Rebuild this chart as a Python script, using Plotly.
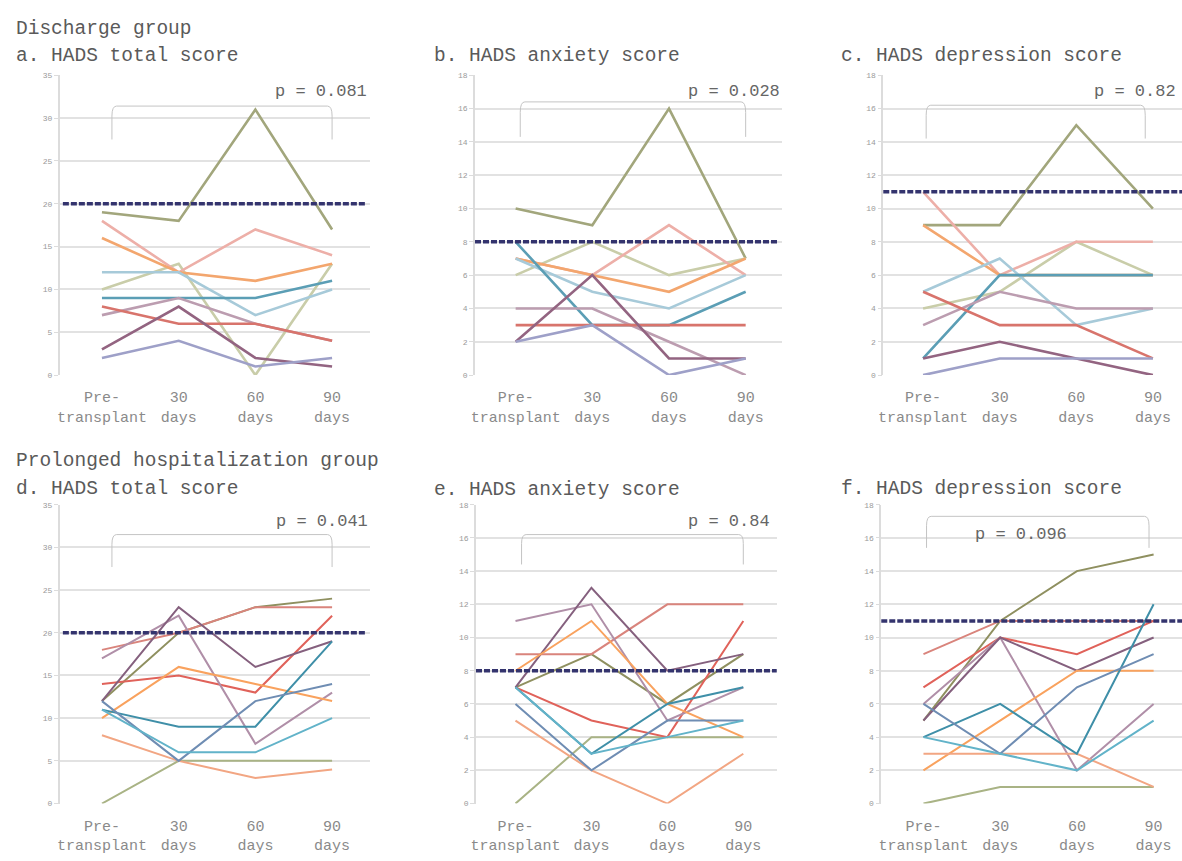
import plotly.graph_objects as go

W, H = 1182, 861
FONT = "Liberation Mono"

categories = ["Pre-<br>transplant", "30<br>days", "60<br>days", "90<br>days"]

# ---------------- Discharge group (10 patients) ----------------
discharge_colors = ["#A2A67C", "#C9CDA9", "#EDAFA8", "#F3A66E", "#A7CAD9",
                    "#5B9EB5", "#BC9DB0", "#D8746C", "#936481", "#9EA0C8"]
discharge_total = [
    [19, 18, 31, 17], [10, 13, 0, 13], [18, 12, 17, 14], [16, 12, 11, 13],
    [12, 12, 7, 10], [9, 9, 9, 11], [7, 9, 6, 4], [8, 6, 6, 4],
    [3, 8, 2, 1], [2, 4, 1, 2]]
discharge_anxiety = [
    [10, 9, 16, 7], [6, 8, 6, 7], [7, 6, 9, 6], [7, 6, 5, 7],
    [7, 5, 4, 6], [8, 3, 3, 5], [4, 4, 2, 0], [3, 3, 3, 3],
    [2, 6, 1, 1], [2, 3, 0, 1]]
discharge_depression = [
    [9, 9, 15, 10], [4, 5, 8, 6], [11, 6, 8, 8], [9, 6, 6, 6],
    [5, 7, 3, 4], [1, 6, 6, 6], [3, 5, 4, 4], [5, 3, 3, 1],
    [1, 2, 1, 0], [0, 1, 1, 1]]

# ---------------- Prolonged hospitalization group (11 patients) ----------------
prolonged_colors = ["#8F9060", "#A9B385", "#D9847C", "#E0625A", "#B08FA8",
                    "#85607E", "#F9A25E", "#F2A683", "#3F8FA8", "#6F8DB3", "#62B3C9"]
prolonged_total = [
    [12, 20, 23, 24], [0, 5, 5, 5], [18, 20, 23, 23], [14, 15, 13, 22],
    [17, 22, 7, 13], [12, 23, 16, 19], [10, 16, 14, 12], [8, 5, 3, 4],
    [11, 9, 9, 19], [12, 5, 12, 14], [11, 6, 6, 10]]
prolonged_anxiety = [
    [7, 9, 6, 9], [0, 4, 4, 4], [9, 9, 12, 12], [7, 5, 4, 11],
    [11, 12, 5, 7], [7, 13, 8, 9], [8, 11, 6, 4], [5, 2, 0, 3],
    [7, 3, 6, 7], [6, 2, 5, 5], [7, 3, 4, 5]]
prolonged_depression = [
    [5, 11, 14, 15], [0, 1, 1, 1], [9, 11, 11, 11], [7, 10, 9, 11],
    [6, 10, 2, 6], [5, 10, 8, 10], [2, 5, 8, 8], [3, 3, 3, 1],
    [4, 6, 3, 12], [6, 3, 7, 9], [4, 3, 2, 5]]

cutoffs = {"total": 20, "anxiety": 8, "depression": 11}
p_values = ["p = 0.081", "p = 0.028", "p = 0.82", "p = 0.041", "p = 0.84", "p = 0.096"]
panel_titles = ["a. HADS total score", "b. HADS anxiety score", "c. HADS depression score",
                "d. HADS total score", "e. HADS anxiety score", "f. HADS depression score"]
group_titles = ["Discharge group", "Prolonged hospitalization group"]

# ---------------- layout geometry (pixels) ----------------
panels = [
    (discharge_total, discharge_colors, 2.6, "total", (55, 367), (72, 375), (-0.55, 3.5)),
    (discharge_anxiety, discharge_colors, 2.6, "anxiety", (472, 780), (72, 375), (-0.53, 3.47)),
    (discharge_depression, discharge_colors, 2.6, "depression", (882, 1182), (72, 375), (-0.52, 3.38)),
    (prolonged_total, prolonged_colors, 2.0, "total", (55, 367), (506, 808), (-0.55, 3.5)),
    (prolonged_anxiety, prolonged_colors, 2.0, "anxiety", (473, 775), (506, 808), (-0.52, 3.44)),
    (prolonged_depression, prolonged_colors, 2.0, "depression", (880, 1182), (506, 808), (-0.55, 3.37)),
]
dash_span = [(0.01, 0.985), (0.0, 0.985), (0.0, 1.0), (0.01, 0.985), (0.0, 1.0), (0.0, 1.0)]
brackets = [(0.13, 3.0, 31.4, 27.5), (0.06, 3.0, 16.4, 14.3), (0.04, 2.9, 16.2, 14.2),
            (0.13, 3.0, 31.5, 27.7), (0.08, 3.0, 16.2, 14.4), (0.04, 2.94, 17.3, 15.4)]
p_pos = [(366, 88, "right"), (780, 88, "right"), (1178, 88, "right"),
         (367, 523, "right"), (770, 523, "right"), (1020, 536, "center")]
title_pos = [(9, 53), (429, 53), (838, 53), (9, 490), (429, 491), (838, 490)]
group_pos = [(9, 25), (9, 462)]


def px(x):
    return x / W


def py(y):
    return 1 - y / H


fig = go.Figure()
layout = dict(width=W, height=H, margin=dict(l=0, r=0, t=0, b=0),
              paper_bgcolor="white", plot_bgcolor="white", showlegend=False,
              font=dict(family=FONT, color="#666"))
shapes, annotations = [], []
xpos = list(range(len(categories)))

for i, (series, colors, lw, kind, xd, yd, xr) in enumerate(panels):
    n = i + 1
    xa = "x" if n == 1 else f"x{n}"
    ya = "y" if n == 1 else f"y{n}"
    for vals, col in zip(series, colors):
        fig.add_trace(go.Scatter(x=xpos, y=vals, mode="lines", xaxis=xa, yaxis=ya,
                                 line=dict(color=col, width=lw), hoverinfo="skip"))
    ymax = 35 if kind == "total" else 18
    dtick = 5 if kind == "total" else 2
    layout[f"xaxis{'' if n == 1 else n}"] = dict(
        domain=[px(xd[0]), px(xd[1])], range=list(xr), anchor=ya,
        tickmode="array", tickvals=xpos, ticktext=categories,
        showgrid=False, zeroline=False, showline=False, ticks="",
        tickfont=dict(family=FONT, size=15, color="#8a8a8a"), ticklabelstandoff=11)
    layout[f"yaxis{'' if n == 1 else n}"] = dict(
        domain=[py(yd[1]), py(yd[0])], range=[0, ymax], anchor=xa,
        tickmode="linear", tick0=0, dtick=dtick,
        showgrid=True, gridcolor="#e2e2e2", gridwidth=1.5, zeroline=False,
        showline=True, linecolor="#dcdcdc", linewidth=1.5,
        ticks="outside", ticklen=4, tickcolor="#dcdcdc",
        tickfont=dict(family=FONT, size=8, color="#9a9a9a"))
    c = cutoffs[kind]
    shapes.append(dict(type="line", xref=f"{xa} domain", yref=ya,
                       x0=dash_span[i][0], x1=dash_span[i][1], y0=c, y1=c,
                       line=dict(color="#34346E", width=3.5, dash="6px,2px"), layer="above"))
    x0, x1, yt, yb = brackets[i]
    r = (yt - yb) * 0.3
    rx = 0.06
    path = (f"M {x0},{yb} L {x0},{yt - r} Q {x0},{yt} {x0 + rx},{yt} "
            f"L {x1 - rx},{yt} Q {x1},{yt} {x1},{yt - r} L {x1},{yb}")
    shapes.append(dict(type="path", xref=xa, yref=ya, path=path,
                       line=dict(color="#c4c4c4", width=1)))
    ppx, ppy, anc = p_pos[i]
    annotations.append(dict(text=p_values[i], xref="paper", yref="paper",
                            x=px(ppx), y=py(ppy), xanchor=anc, yanchor="middle",
                            showarrow=False, font=dict(family=FONT, size=17, color="#666")))
    tx, ty = title_pos[i]
    annotations.append(dict(text=panel_titles[i], xref="paper", yref="paper",
                            x=px(tx), y=py(ty), xanchor="left", yanchor="middle",
                            showarrow=False, font=dict(family=FONT, size=19.5, color="#5a5a5a")))

for txt, (gx, gy) in zip(group_titles, group_pos):
    annotations.append(dict(text=txt, xref="paper", yref="paper", x=px(gx), y=py(gy),
                            xanchor="left", yanchor="middle", showarrow=False,
                            font=dict(family=FONT, size=19.5, color="#5a5a5a")))

layout["shapes"] = shapes
layout["annotations"] = annotations
fig.update_layout(**layout)
fig.write_html("out.html", config={"displayModeBar": False},
               post_script="document.body.style.margin='0';document.body.style.overflow='hidden';")
